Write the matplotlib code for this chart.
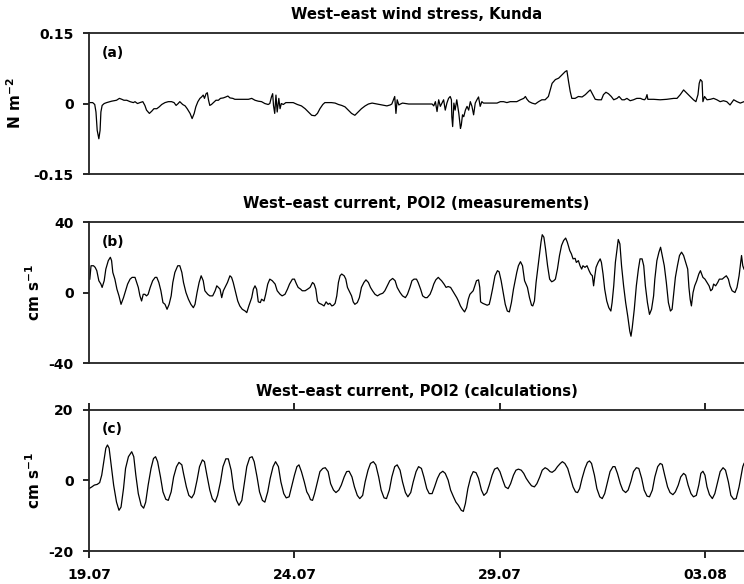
import matplotlib
matplotlib.use("Agg")
import matplotlib.pyplot as plt

# time axis: days since 19.07 (00:00)
tick_days = [0, 5, 10, 15]
tick_labels = ['19.07', '24.07', '29.07', '03.08']
x_end = 15.94

titles = ['West\u2013east wind stress, Kunda',
          'West\u2013east current, POI2 (measurements)',
          'West\u2013east current, POI2 (calculations)']
panel_tags = ['(a)', '(b)', '(c)']
units = ['N m$^{-2}$', 'cm s$^{-1}$', 'cm s$^{-1}$']
y_limits = [0.15, 40, 20]
y_tick_labels = [['-0.15', '0', '0.15'], ['-40', '0', '40'], ['-20', '0', '20']]

# (a) wind stress, N m-2
wind_day = [
    0.00, 0.09, 0.14, 0.17, 0.20, 0.24, 0.27, 0.29, 0.32, 0.37,
    0.43, 0.55, 0.67, 0.74, 0.80, 0.85, 0.92, 1.00, 1.08, 1.12,
    1.18, 1.24, 1.31, 1.36, 1.40, 1.47, 1.53, 1.58, 1.65, 1.71,
    1.77, 1.85, 1.93, 2.01, 2.07, 2.12, 2.17, 2.21, 2.28, 2.34,
    2.39, 2.46, 2.51, 2.56, 2.60, 2.65, 2.70, 2.74, 2.78, 2.81,
    2.85, 2.88, 2.91, 2.94, 2.98, 3.03, 3.09, 3.15, 3.20, 3.27,
    3.33, 3.38, 3.43, 3.50, 3.55, 3.63, 3.76, 3.88, 3.96, 4.04,
    4.12, 4.20, 4.28, 4.36, 4.40, 4.44, 4.47, 4.49, 4.52, 4.55,
    4.58, 4.62, 4.65, 4.68, 4.73, 4.79, 4.87, 4.97, 5.07, 5.17,
    5.26, 5.34, 5.42, 5.50, 5.56, 5.62, 5.69, 5.74, 5.82, 5.90,
    5.99, 6.07, 6.15, 6.23, 6.31, 6.39, 6.47, 6.55, 6.63, 6.72,
    6.80, 6.89, 7.01, 7.13, 7.25, 7.33, 7.37, 7.41, 7.44, 7.47,
    7.50, 7.54, 7.58, 7.63, 7.78, 8.10, 8.35, 8.39, 8.43, 8.47,
    8.51, 8.55, 8.59, 8.63, 8.67, 8.71, 8.75, 8.79, 8.82, 8.83,
    8.85, 8.88, 8.91, 8.95, 9.00, 9.04, 9.06, 9.09, 9.12, 9.16,
    9.20, 9.24, 9.28, 9.32, 9.36, 9.40, 9.44, 9.48, 9.52, 9.56,
    9.60, 9.68, 9.93, 10.01, 10.09, 10.17, 10.25, 10.41, 10.50, 10.58,
    10.62, 10.66, 10.71, 10.78, 10.86, 10.94, 11.02, 11.10, 11.18, 11.27,
    11.35, 11.43, 11.51, 11.59, 11.63, 11.67, 11.71, 11.75, 11.83, 11.91,
    12.00, 12.08, 12.16, 12.20, 12.26, 12.32, 12.39, 12.47, 12.52, 12.58,
    12.64, 12.71, 12.77, 12.85, 12.90, 12.97, 13.03, 13.09, 13.17, 13.25,
    13.33, 13.42, 13.47, 13.52, 13.55, 13.58, 13.60, 13.74, 13.90, 14.06,
    14.23, 14.31, 14.39, 14.47, 14.55, 14.63, 14.71, 14.77, 14.82, 14.85,
    14.88, 14.92, 14.94, 14.98, 15.04, 15.12, 15.20, 15.28, 15.36, 15.44,
    15.52, 15.60, 15.69, 15.77, 15.85, 15.94]
wind_stress = [
    0.002, 0.002, -0.002, -0.018, -0.057, -0.075, -0.057, -0.018, -0.004, 0.000,
    0.002, 0.005, 0.007, 0.011, 0.009, 0.007, 0.007, 0.004, 0.002, 0.004,
    0.000, 0.002, 0.004, -0.004, -0.014, -0.021, -0.016, -0.011, -0.011, -0.007,
    -0.002, 0.002, 0.004, 0.004, 0.002, -0.004, 0.000, 0.004, -0.002, -0.005,
    -0.011, -0.021, -0.032, -0.021, -0.007, 0.004, 0.011, 0.014, 0.018, 0.011,
    0.021, 0.023, 0.007, -0.004, -0.002, 0.002, 0.007, 0.007, 0.011, 0.012,
    0.014, 0.016, 0.012, 0.011, 0.009, 0.009, 0.009, 0.009, 0.011, 0.007,
    0.005, 0.004, 0.000, -0.002, 0.000, 0.014, 0.021, -0.004, -0.021, 0.018,
    -0.018, 0.011, -0.011, 0.000, -0.002, 0.002, 0.002, 0.002, -0.002, -0.005,
    -0.011, -0.018, -0.025, -0.026, -0.021, -0.011, -0.002, 0.002, 0.002, 0.002,
    0.001, -0.002, -0.004, -0.007, -0.014, -0.021, -0.025, -0.018, -0.011, -0.005,
    -0.001, 0.001, -0.001, -0.003, -0.005, -0.003, -0.001, 0.008, 0.015, -0.021,
    0.008, -0.003, -0.001, 0.001, -0.001, -0.001, -0.001, -0.005, 0.004, -0.017,
    0.008, -0.006, 0.001, 0.008, -0.014, 0.001, 0.011, 0.015, 0.008, -0.028,
    -0.049, 0.001, -0.014, 0.008, -0.021, -0.053, -0.046, -0.024, -0.028, -0.014,
    -0.006, -0.014, 0.004, -0.006, -0.024, 0.001, 0.008, 0.014, -0.006, 0.004,
    0.001, 0.001, 0.001, 0.004, 0.004, 0.002, 0.004, 0.004, 0.008, 0.011,
    0.015, 0.009, 0.004, 0.001, -0.001, 0.004, 0.008, 0.008, 0.015, 0.043,
    0.051, 0.054, 0.061, 0.068, 0.070, 0.047, 0.026, 0.011, 0.011, 0.015,
    0.014, 0.019, 0.026, 0.029, 0.019, 0.009, 0.008, 0.008, 0.019, 0.024,
    0.021, 0.015, 0.008, 0.011, 0.015, 0.008, 0.008, 0.011, 0.006, 0.008,
    0.011, 0.011, 0.009, 0.008, 0.011, 0.019, 0.009, 0.009, 0.008, 0.009,
    0.011, 0.011, 0.019, 0.029, 0.022, 0.015, 0.008, 0.004, 0.019, 0.043,
    0.051, 0.047, 0.004, 0.015, 0.008, 0.009, 0.011, 0.008, 0.004, 0.006,
    0.004, -0.003, 0.008, 0.004, 0.001, 0.004]

# (b) measured current, cm s-1
meas_day = [
    0.02, 0.05, 0.11, 0.15, 0.19, 0.24, 0.29, 0.32, 0.37, 0.41,
    0.47, 0.52, 0.55, 0.58, 0.63, 0.68, 0.73, 0.78, 0.84, 0.89,
    0.94, 1.00, 1.05, 1.12, 1.16, 1.20, 1.24, 1.28, 1.32, 1.36,
    1.40, 1.44, 1.49, 1.55, 1.61, 1.65, 1.70, 1.75, 1.80, 1.85,
    1.90, 1.95, 2.00, 2.04, 2.09, 2.16, 2.21, 2.26, 2.30, 2.36,
    2.42, 2.48, 2.54, 2.58, 2.63, 2.68, 2.73, 2.78, 2.82, 2.89,
    2.94, 3.01, 3.07, 3.11, 3.15, 3.19, 3.23, 3.27, 3.31, 3.37,
    3.43, 3.47, 3.51, 3.57, 3.62, 3.67, 3.73, 3.80, 3.84, 3.89,
    3.96, 4.00, 4.04, 4.08, 4.12, 4.17, 4.20, 4.26, 4.30, 4.35,
    4.40, 4.46, 4.53, 4.58, 4.65, 4.70, 4.77, 4.83, 4.88, 4.95,
    5.00, 5.05, 5.09, 5.15, 5.19, 5.26, 5.32, 5.38, 5.44, 5.48,
    5.52, 5.56, 5.60, 5.66, 5.72, 5.77, 5.82, 5.86, 5.91, 5.95,
    5.99, 6.03, 6.07, 6.11, 6.15, 6.21, 6.25, 6.29, 6.33, 6.39,
    6.43, 6.47, 6.53, 6.58, 6.63, 6.69, 6.74, 6.80, 6.85, 6.90,
    6.96, 7.02, 7.08, 7.15, 7.20, 7.26, 7.32, 7.39, 7.45, 7.50,
    7.57, 7.63, 7.70, 7.75, 7.81, 7.86, 7.91, 7.97, 8.01, 8.07,
    8.12, 8.18, 8.23, 8.30, 8.35, 8.39, 8.44, 8.50, 8.54, 8.58,
    8.64, 8.69, 8.74, 8.80, 8.85, 8.90, 8.95, 8.99, 9.04, 9.09,
    9.14, 9.19, 9.23, 9.27, 9.31, 9.35, 9.39, 9.43, 9.48, 9.51,
    9.53, 9.58, 9.64, 9.69, 9.74, 9.77, 9.82, 9.88, 9.94, 9.98,
    10.03, 10.08, 10.13, 10.18, 10.23, 10.28, 10.33, 10.37, 10.41, 10.45,
    10.50, 10.55, 10.60, 10.67, 10.72, 10.77, 10.80, 10.84, 10.88, 10.93,
    10.97, 11.00, 11.03, 11.07, 11.11, 11.16, 11.21, 11.26, 11.31, 11.35,
    11.40, 11.45, 11.50, 11.55, 11.60, 11.64, 11.70, 11.74, 11.78, 11.83,
    11.86, 11.91, 11.95, 11.99, 12.02, 12.07, 12.12, 12.17, 12.21, 12.25,
    12.28, 12.31, 12.34, 12.39, 12.44, 12.47, 12.51, 12.55, 12.60, 12.65,
    12.70, 12.73, 12.77, 12.81, 12.86, 12.88, 12.92, 12.96, 13.01, 13.06,
    13.11, 13.16, 13.19, 13.22, 13.27, 13.32, 13.37, 13.41, 13.46, 13.50,
    13.54, 13.59, 13.64, 13.69, 13.74, 13.77, 13.82, 13.87, 13.91, 13.95,
    14.00, 14.05, 14.10, 14.15, 14.19, 14.24, 14.27, 14.32, 14.37, 14.42,
    14.47, 14.52, 14.57, 14.60, 14.63, 14.66, 14.70, 14.74, 14.79, 14.84,
    14.88, 14.94, 14.99, 15.04, 15.09, 15.13, 15.17, 15.20, 15.25, 15.30,
    15.34, 15.41, 15.46, 15.51, 15.56, 15.60, 15.65, 15.72, 15.77, 15.82,
    15.85, 15.88, 15.91, 15.94]
meas_current = [
    7.6, 15.2, 15.2, 14.3, 12.4, 6.7, 4.8, 2.9, 6.7, 13.3,
    18.1, 20.0, 18.1, 11.4, 7.6, 1.9, -1.9, -6.7, -2.9, 1.0,
    4.8, 7.6, 8.6, 8.6, 5.7, 2.9, -1.9, -4.8, -1.0, -1.0,
    -1.9, -1.0, 2.9, 6.7, 8.6, 8.6, 5.7, 1.0, -5.7, -6.7,
    -9.5, -6.7, -1.9, 5.7, 11.4, 15.2, 15.2, 11.4, 5.7, 0.0,
    -3.8, -6.7, -8.6, -6.7, 0.0, 5.7, 9.5, 6.7, 1.0, -1.0,
    -1.9, -1.9, 1.0, 3.8, 2.9, 1.9, -2.9, 1.0, 2.9, 5.7,
    9.5, 8.6, 5.7, 0.0, -4.8, -7.6, -9.5, -10.5, -11.4, -7.6,
    -2.9, 1.9, 3.8, 1.9, -5.3, -5.7, -3.8, -4.8, -1.0, 4.8,
    7.6, 6.7, 4.8, 1.0, -1.0, -1.9, -1.0, 1.9, 4.8, 7.6,
    7.6, 4.8, 2.9, 1.9, 1.0, 1.0, 1.9, 2.9, 5.7, 4.8,
    1.9, -4.8, -6.1, -6.7, -7.6, -5.3, -6.7, -6.1, -7.6, -7.2,
    -6.1, -1.9, 5.7, 9.5, 10.5, 9.5, 7.6, 2.9, 1.0, -1.9,
    -5.3, -6.7, -5.7, -2.9, 2.9, 5.7, 7.2, 5.7, 2.9, 1.0,
    -1.0, -1.9, -1.0, -0.4, 1.0, 3.8, 6.7, 8.0, 6.7, 2.9,
    0.0, -1.9, -2.9, -1.0, 2.9, 6.7, 7.6, 7.6, 5.7, 1.9,
    -1.9, -2.9, -2.9, -1.0, 1.9, 4.8, 7.2, 8.6, 7.6, 6.7,
    4.8, 2.9, 3.4, 2.9, 1.0, -1.0, -2.9, -4.8, -7.6, -9.5,
    -11.0, -8.6, -3.8, -1.0, 0.0, 1.0, 3.8, 6.7, 7.2, 2.9,
    -5.3, -6.1, -6.7, -7.2, -6.7, -3.8, 1.9, 9.5, 12.4, 11.8,
    6.7, 0.0, -6.7, -10.5, -11.0, -5.7, 1.9, 6.7, 11.4, 15.2,
    17.5, 15.2, 6.7, 2.9, -2.9, -7.2, -7.6, -4.8, 5.7, 15.2,
    22.9, 28.6, 32.8, 31.4, 24.8, 15.2, 7.6, 6.1, 6.7, 7.6,
    13.3, 21.0, 26.7, 29.5, 30.9, 28.6, 23.8, 21.9, 19.1, 19.4,
    17.1, 18.1, 15.2, 13.3, 15.2, 14.3, 15.2, 12.4, 10.5, 9.5,
    3.8, 9.5, 14.3, 17.1, 19.1, 17.1, 10.5, 1.9, -4.8, -8.6,
    -10.5, -5.7, 3.8, 17.1, 26.7, 30.1, 27.6, 15.2, 3.8, -5.7,
    -13.3, -21.9, -24.8, -20.0, -9.5, 3.8, 13.3, 19.1, 19.1, 15.2,
    3.8, -5.7, -12.4, -9.5, -1.9, 7.6, 18.1, 22.9, 25.7, 21.0,
    15.2, 5.7, -5.7, -10.5, -9.5, 1.9, 8.6, 15.2, 21.0, 22.9,
    21.0, 17.1, 13.3, 2.9, -3.8, -7.6, 0.0, 3.8, 6.7, 10.5,
    12.4, 8.6, 7.6, 5.7, 3.8, 1.0, 1.9, 4.8, 3.8, 5.7,
    7.6, 7.6, 8.6, 9.5, 7.6, 3.8, 1.0, 0.0, 2.9, 9.5,
    15.2, 21.0, 15.2, 13.3]

# (c) calculated current, cm s-1
calc_day = [
    0.00, 0.07, 0.13, 0.20, 0.26, 0.31, 0.36, 0.41, 0.45, 0.49,
    0.54, 0.60, 0.67, 0.73, 0.78, 0.84, 0.89, 0.96, 1.04, 1.09,
    1.14, 1.20, 1.27, 1.33, 1.38, 1.44, 1.51, 1.57, 1.62, 1.67,
    1.74, 1.80, 1.87, 1.93, 2.00, 2.06, 2.13, 2.19, 2.26, 2.30,
    2.37, 2.43, 2.50, 2.56, 2.63, 2.69, 2.76, 2.81, 2.87, 2.94,
    3.00, 3.07, 3.13, 3.20, 3.26, 3.33, 3.39, 3.46, 3.52, 3.59,
    3.65, 3.72, 3.78, 3.84, 3.91, 3.97, 4.02, 4.09, 4.15, 4.22,
    4.28, 4.35, 4.41, 4.48, 4.54, 4.61, 4.67, 4.74, 4.80, 4.87,
    4.93, 5.00, 5.06, 5.11, 5.17, 5.24, 5.30, 5.35, 5.39, 5.44,
    5.49, 5.56, 5.62, 5.69, 5.75, 5.82, 5.88, 5.95, 6.01, 6.08,
    6.14, 6.21, 6.27, 6.33, 6.40, 6.46, 6.53, 6.59, 6.66, 6.72,
    6.79, 6.85, 6.92, 6.98, 7.05, 7.11, 7.18, 7.24, 7.31, 7.37,
    7.44, 7.50, 7.57, 7.63, 7.70, 7.76, 7.83, 7.89, 7.96, 8.02,
    8.09, 8.15, 8.22, 8.28, 8.35, 8.41, 8.48, 8.54, 8.61, 8.67,
    8.74, 8.80, 8.87, 8.93, 8.99, 9.06, 9.11, 9.16, 9.22, 9.29,
    9.35, 9.42, 9.48, 9.55, 9.61, 9.68, 9.74, 9.81, 9.87, 9.94,
    10.00, 10.07, 10.13, 10.20, 10.26, 10.33, 10.39, 10.45, 10.52, 10.58,
    10.64, 10.71, 10.77, 10.84, 10.90, 10.97, 11.03, 11.10, 11.16, 11.22,
    11.27, 11.34, 11.40, 11.47, 11.52, 11.58, 11.65, 11.71, 11.78, 11.84,
    11.89, 11.94, 12.00, 12.07, 12.13, 12.18, 12.23, 12.30, 12.36, 12.43,
    12.49, 12.55, 12.62, 12.68, 12.75, 12.80, 12.86, 12.93, 12.99, 13.06,
    13.12, 13.19, 13.25, 13.32, 13.38, 13.45, 13.51, 13.58, 13.64, 13.71,
    13.77, 13.84, 13.90, 13.95, 14.01, 14.08, 14.14, 14.21, 14.27, 14.34,
    14.40, 14.47, 14.52, 14.58, 14.65, 14.71, 14.78, 14.84, 14.89, 14.94,
    14.99, 15.04, 15.10, 15.17, 15.23, 15.30, 15.36, 15.43, 15.49, 15.56,
    15.62, 15.69, 15.75, 15.82, 15.88, 15.91, 15.94]
calc_current = [
    -2.3, -1.8, -1.3, -1.1, -0.6, 1.5, 5.3, 9.1, 10.0, 9.1,
    4.4, -1.3, -6.1, -8.4, -7.5, -2.3, 3.4, 6.7, 8.1, 6.7,
    1.5, -3.7, -7.0, -7.8, -6.1, -1.3, 3.4, 6.2, 6.7, 5.3,
    1.0, -3.2, -5.3, -5.6, -3.2, 1.0, 3.9, 5.1, 4.4, 2.0,
    -1.8, -4.2, -4.9, -3.7, 0.1, 3.9, 5.8, 5.3, 1.5, -2.7,
    -5.1, -6.1, -4.2, -0.4, 3.9, 6.1, 6.1, 2.9, -2.3, -5.6,
    -7.0, -5.6, -0.9, 3.9, 6.4, 6.7, 5.3, 1.0, -3.2, -5.6,
    -6.1, -3.2, 0.6, 3.9, 5.3, 3.9, -0.4, -3.7, -4.9, -4.6,
    -1.8, 1.5, 3.9, 4.4, 2.5, -0.4, -3.2, -4.2, -5.4, -5.6,
    -3.7, -0.4, 2.5, 3.4, 3.6, 2.5, -0.9, -2.7, -3.4, -2.7,
    -1.3, 1.0, 2.5, 2.6, 1.0, -1.8, -4.2, -5.1, -4.2, -0.4,
    2.9, 4.8, 5.3, 4.4, 1.0, -2.7, -4.9, -5.1, -2.7, 1.0,
    3.9, 4.4, 2.9, -0.4, -3.4, -4.6, -3.4, -0.4, 2.5, 3.9,
    3.4, 1.0, -2.3, -3.7, -3.7, -1.8, 0.6, 2.0, 2.6, 2.0,
    0.1, -2.7, -4.6, -6.1, -7.0, -8.4, -8.7, -6.5, -2.3, 1.0,
    2.5, 2.2, 0.6, -2.7, -4.2, -3.4, -1.3, 1.5, 3.2, 3.6,
    2.5, 0.1, -1.8, -2.3, -0.9, 1.5, 2.9, 3.2, 2.9, 2.0,
    0.6, -0.6, -1.5, -1.8, -0.9, 1.0, 2.9, 3.6, 3.2, 2.5,
    2.3, 2.9, 3.9, 4.8, 5.3, 4.8, 3.4, 1.0, -1.8, -3.2,
    -3.4, -2.3, 0.6, 3.4, 5.1, 5.5, 4.8, 1.5, -2.3, -4.6,
    -5.1, -3.7, -0.4, 2.5, 3.9, 3.9, 2.0, -0.9, -2.7, -3.4,
    -2.7, -0.2, 2.5, 3.6, 3.4, 0.6, -2.7, -4.4, -4.6, -2.7,
    1.0, 3.9, 4.8, 4.5, 1.5, -1.8, -3.4, -4.0, -3.2, -1.3,
    1.0, 2.0, 1.5, -1.3, -3.7, -4.6, -4.2, -1.3, 2.0, 2.6,
    1.5, -1.8, -4.0, -5.1, -3.7, -0.4, 2.5, 3.6, 2.9, -0.4,
    -4.2, -5.3, -5.1, -1.8, 2.0, 3.9, 4.8]

series = [(wind_day, wind_stress), (meas_day, meas_current), (calc_day, calc_current)]

plt.rcParams['font.family'] = ['DejaVu Sans']
plt.rcParams['font.weight'] = 'bold'
plt.rcParams['font.size'] = 10
plt.rcParams['mathtext.default'] = 'bf'

fig = plt.figure(figsize=(7.44, 5.84), dpi=100)
boxes = [[0.1196, 0.702, 0.8804, 0.2414],
         [0.1196, 0.3784, 0.8804, 0.2414],
         [0.1196, 0.0557, 0.8804, 0.2431]]
label_x = [-0.099, -0.070, -0.070]

for i in range(3):
    ax = fig.add_axes(boxes[i])
    x, y = series[i]
    ax.plot(x, y, color='black', lw=0.9)
    lim = y_limits[i]
    ax.set_xlim(0, x_end)
    ax.set_ylim(-lim, lim)
    ax.set_yticks([-lim, 0, lim])
    ax.set_yticklabels(y_tick_labels[i])
    ax.tick_params(axis='y', direction='out', length=4, width=1.2, pad=7)
    for side in ['left', 'top', 'bottom']:
        ax.spines[side].set_linewidth(1.3)
        ax.spines[side].set_color('#222222')
    ax.spines['right'].set_visible(False)
    if i < 2:
        ax.set_xticks([])
    else:
        ax.set_xticks(tick_days)
        ax.set_xticklabels(tick_labels)
        ax.tick_params(axis='x', top=True, direction='out', length=5, width=1.2, pad=7)
    ax.set_title(titles[i], fontsize=10.7, fontweight='bold', pad=10)
    ax.set_ylabel(units[i], fontsize=11, fontweight='bold')
    ax.yaxis.set_label_coords(label_x[i], 0.5)
    ax.text(0.02, 0.86, panel_tags[i], transform=ax.transAxes, va='center',
            fontweight='bold')

fig.savefig('out.png', dpi=100)
